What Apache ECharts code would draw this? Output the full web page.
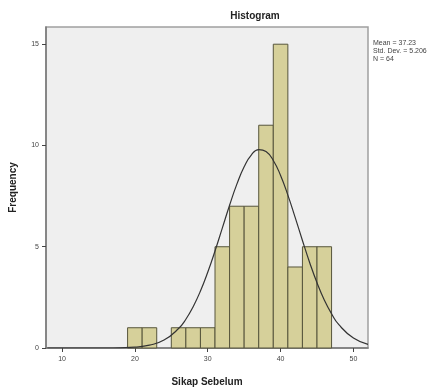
<!DOCTYPE html>
<html>
<head>
<meta charset="utf-8">
<script src="https://cdn.jsdelivr.net/npm/echarts@6/dist/echarts.min.js"></script>
<style>
  html, body { margin: 0; padding: 0; background: #fff; }
  #chart { width: 444px; height: 392px; }
</style>
</head>
<body>
<div id="chart"></div>
<script>
// bin edges (width 2) and counts
const binStart = [19, 21, 23, 25, 27, 29, 31, 33, 35, 37, 39, 41, 43, 45]
const binEnd = [21, 23, 25, 27, 29, 31, 33, 35, 37, 39, 41, 43, 45, 47]
const counts = [1, 1, 0, 1, 1, 1, 5, 7, 7, 11, 15, 4, 5, 5]
// normal curve
const curveX = [8, 14, 16, 18, 20, 22, 24, 26, 27, 28, 29, 30, 31, 32, 33, 34, 35, 36, 37, 38, 39, 40, 41, 42, 43, 44, 45, 46, 47, 48, 50, 52]
const curveY = [0, 0, 0, 0.01, 0.04, 0.14, 0.39, 0.96, 1.42, 2.04, 2.81, 3.74, 4.79, 5.92, 7.05, 8.09, 8.95, 9.54, 9.8, 9.7, 9.26, 8.52, 7.55, 6.45, 5.31, 4.21, 3.22, 2.37, 1.69, 1.15, 0.49, 0.18]
const xTicks = [10, 20, 30, 40, 50]
const yTicks = [0, 5, 10, 15]
const stats = ['Mean = 37.23', 'Std. Dev. = 5.206', 'N = 64']

const font = 'Liberation Sans, Arial, sans-serif'
const chart = echarts.init(document.getElementById('chart'))

const bars = binStart.map((s, i) => [s, binEnd[i], counts[i]])
const curve = curveX.map((x, i) => [x, curveY[i]])

chart.setOption({
  animation: false,
  backgroundColor: '#ffffff',
  textStyle: { fontFamily: font },
  grid: {
    left: 45, right: 76, top: 27, bottom: 40,
    show: true,
    backgroundColor: '#efefef',
    borderColor: '#a0a0a0',
    borderWidth: 1.5
  },
  xAxis: {
    type: 'value',
    min: 7.8,
    max: 52,
    name: 'Sikap Sebelum',
    nameLocation: 'middle',
    nameGap: 29,
    nameTextStyle: { fontSize: 10, fontWeight: 'bold', color: '#222', fontFamily: font },
    splitLine: { show: false },
    axisLine: { show: true, lineStyle: { color: '#777', width: 1.5 } },
    axisTick: { show: true, length: 4, customValues: xTicks, lineStyle: { color: '#444' } },
    axisLabel: { customValues: xTicks, fontSize: 7, color: '#444', margin: 8 }
  },
  yAxis: {
    type: 'value',
    min: 0,
    max: 15.85,
    name: 'Frequency',
    nameLocation: 'middle',
    nameGap: 28,
    nameTextStyle: { fontSize: 10, fontWeight: 'bold', color: '#222', fontFamily: font },
    splitLine: { show: false },
    axisLine: { show: true, lineStyle: { color: '#777', width: 1.5 } },
    axisTick: { show: true, length: 4, customValues: yTicks, lineStyle: { color: '#444' } },
    axisLabel: { customValues: yTicks, fontSize: 7, color: '#444', margin: 7 }
  },
  title: {
    text: 'Histogram',
    left: 250,
    top: 6,
    textAlign: 'center',
    textStyle: { fontSize: 10, fontWeight: 'bold', color: '#222', fontFamily: font }
  },
  graphic: stats.map((t, i) => ({
    type: 'text',
    left: 373,
    top: 40 + i * 8,
    style: { text: t, fontSize: 7, fill: '#444', fontFamily: font }
  })),
  series: [
    {
      type: 'custom',
      data: bars,
      renderItem: (params, api) => {
        const v = api.value(2)
        if (!v) return null
        const p0 = api.coord([api.value(0), v])
        const p1 = api.coord([api.value(1), 0])
        return {
          type: 'rect',
          shape: { x: p0[0], y: p0[1], width: p1[0] - p0[0], height: p1[1] - p0[1] },
          style: { fill: '#d6d09a', stroke: '#57553c', lineWidth: 1 }
        }
      },
      encode: { x: [0, 1], y: 2 }
    },
    {
      type: 'line',
      data: curve,
      smooth: true,
      showSymbol: false,
      lineStyle: { color: '#333', width: 1.2 },
      z: 5
    }
  ]
})
</script>
</body>
</html>
